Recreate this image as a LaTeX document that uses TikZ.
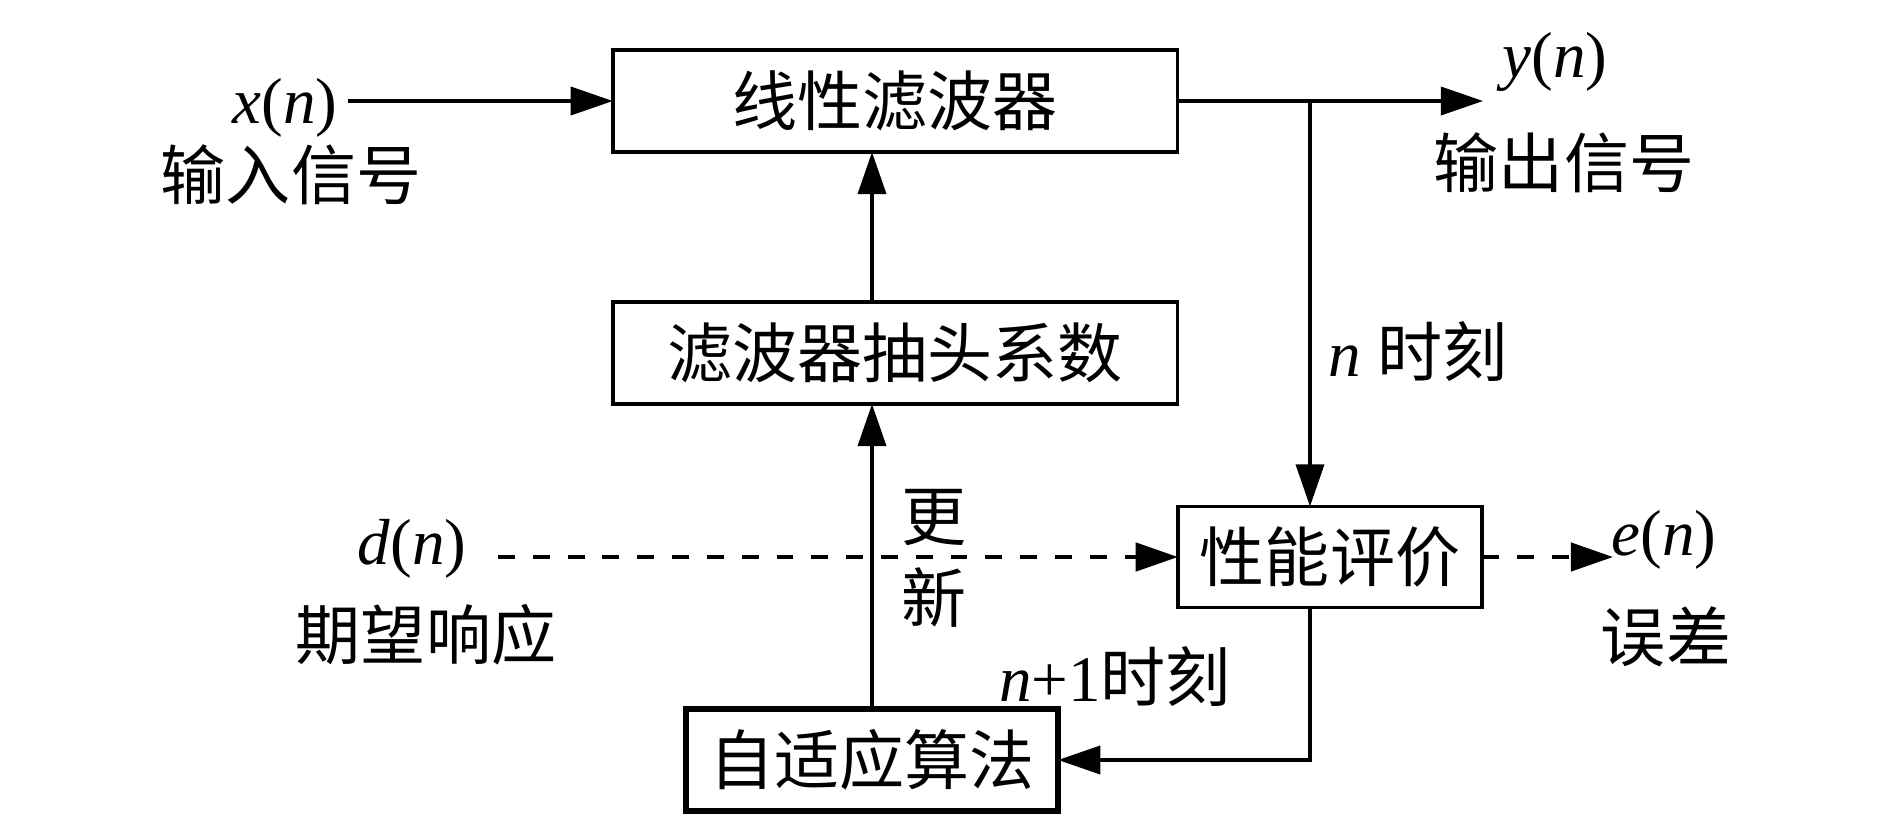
\documentclass[tikz,border=0pt]{standalone}
\usepackage{fontspec}
\setmainfont{Liberation Serif}
\newfontfamily\cjk{Noto Sans CJK SC}
\usetikzlibrary{arrows.meta,positioning}

\begin{document}
\begin{tikzpicture}[x=0.01cm,y=-0.01cm,font=\fontsize{18.5}{22}\selectfont,
  block/.style={rectangle, draw, line width=0.95pt, inner sep=0pt, outer sep=0pt, minimum width=5.64cm, minimum height=1.02cm},
  lbl/.style={inner sep=0pt},
  arr/.style={-{Triangle[length=12pt,width=8pt]}, line width=1pt},
  dsh/.style={arr, line width=1.2pt, dash pattern=on 4.8pt off 5.1pt}]
\useasboundingbox (0,0) rectangle (1890,827);

\node (filter) [block] at (895,101) {\cjk 线性滤波器};
\node (coef) [block] at (895,353) {\cjk 滤波器抽头系数};
\node (eval) [block, minimum width=3.04cm, minimum height=1.01cm] at (1330,557) {\cjk 性能评价};
\node (alg) [block, line width=1.5pt, minimum width=3.72cm] at (872,760) {\cjk 自适应算法};

\node (xn) [lbl] at (285,108) {\textit{x}(\textit{n})};
\node (xin) [lbl] at (291,175) {\cjk 输入信号};
\node (yn) [lbl] at (1555,62) {\textit{y}(\textit{n})};
\node (yout) [lbl] at (1564,163) {\cjk 输出信号};
\node (tn) [lbl] at (1418,352) {\textit{n} {\cjk 时刻}};
\node (dn) [lbl] at (412,549) {\textit{d}(\textit{n})};
\node (dwant) [lbl] at (426,635) {\cjk 期望响应};
\node (en) [lbl] at (1664,540) {\textit{e}(\textit{n})};
\node (err) [lbl] at (1666,637) {\cjk 误差};
\node (upd1) [lbl] at (934,518) {\cjk 更};
\node (upd2) [lbl] at (934,597) {\cjk 新};
\node (tn1) [lbl] at (1115,677) {\textit{n}+1{\cjk 时刻}};

\coordinate (xstart) at (348,101);
\coordinate (yend) at (1483,101);
\coordinate (branch) at (1310,101);
\coordinate (dstart) at (498,557);
\coordinate (eend) at (1613,557);

\draw [arr] (xstart) -- (filter.west);
\draw [arr] (filter.east) -- (yend);
\draw [arr] (branch) -- (branch |- eval.north);
\draw [arr] (alg.north |- coef.north) -- (alg.north |- filter.south);
\draw [arr] (alg.north) -- (alg.north |- coef.south);
\draw [dsh] (dstart) -- (eval.west);
\draw [dsh] (eval.east) -- (eend);
\draw [arr] (eval.south -| branch) |- (alg.east);
\end{tikzpicture}
\end{document}
